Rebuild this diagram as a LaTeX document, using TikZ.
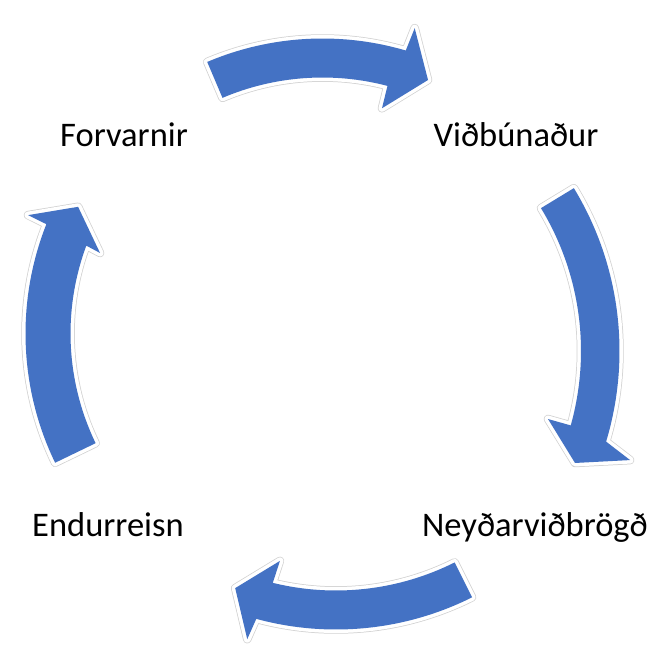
\documentclass[tikz,border=0pt]{standalone}
\usepackage{fontspec}
\setmainfont{Carlito}
\definecolor{officeblue}{HTML}{4472C4}
\tikzset{
  cyclearrow/.style={fill=officeblue, line join=round,
    preaction={draw=black!18, line width=8.5pt, line join=round},
    preaction={draw=white, line width=7pt, line join=round}},
  lbl/.style={font=\fontsize{34.5}{40}\selectfont, text=black, inner sep=0pt, anchor=base}
}
\begin{document}
\begin{tikzpicture}[x=1pt,y=-1pt]
\useasboundingbox (0,0) rectangle (648,653);
\begin{scope}[shift={(322.5,333.5)}, yscale=-1]
  % top arrow
  \path[cyclearrow] (113:295) arc[start angle=113, end angle=73.6, radius=295]
    -- (73.2:319) -- (67.4:274.6) -- (75.2:233) -- (75.3:256)
    arc[start angle=75.3, end angle=113, radius=256] -- cycle;
  % left arrow
  \path[cyclearrow] (205.8:297) arc[start angle=205.8, end angle=158.4, radius=297]
    -- (158.1:317.4) -- (152.6:275.3) -- (160.1:236.6) -- (159.6:252)
    arc[start angle=159.6, end angle=205.8, radius=252] -- cycle;
  % right arrow
  \begin{scope}[shift={(-16.5,-17.5)}]
  \path[cyclearrow] (31.3:313.5) arc[start angle=31.3, end angle=-16.8, radius=313.5]
    -- (-18.6:342) -- (-22.6:291.4) -- (-15.7:251.4) -- (-15.7:275)
    arc[start angle=-15.7, end angle=31.3, radius=275] -- cycle;
  \end{scope}
  % bottom arrow
  \begin{scope}[shift={(13.5,8)}]
  \path[cyclearrow] (-63.4:304) arc[start angle=-63.4, end angle=-105.2, radius=304]
    -- (-105.8:326) -- (-111:281.3) -- (-103.4:242) -- (-103.8:265)
    arc[start angle=-103.8, end angle=-63.4, radius=265] -- cycle;
  \end{scope}
\end{scope}
% labels
\node[lbl] (forv) at (124,146) {Forvarnir};
\node[lbl] (vidb) at (516,146) {Viðbúnaður};
\node[lbl] (neyd) at (535,536) {Neyðarviðbrögð};
\node[lbl] (endu) at (108,536) {Endurreisn};
\end{tikzpicture}
\end{document}
